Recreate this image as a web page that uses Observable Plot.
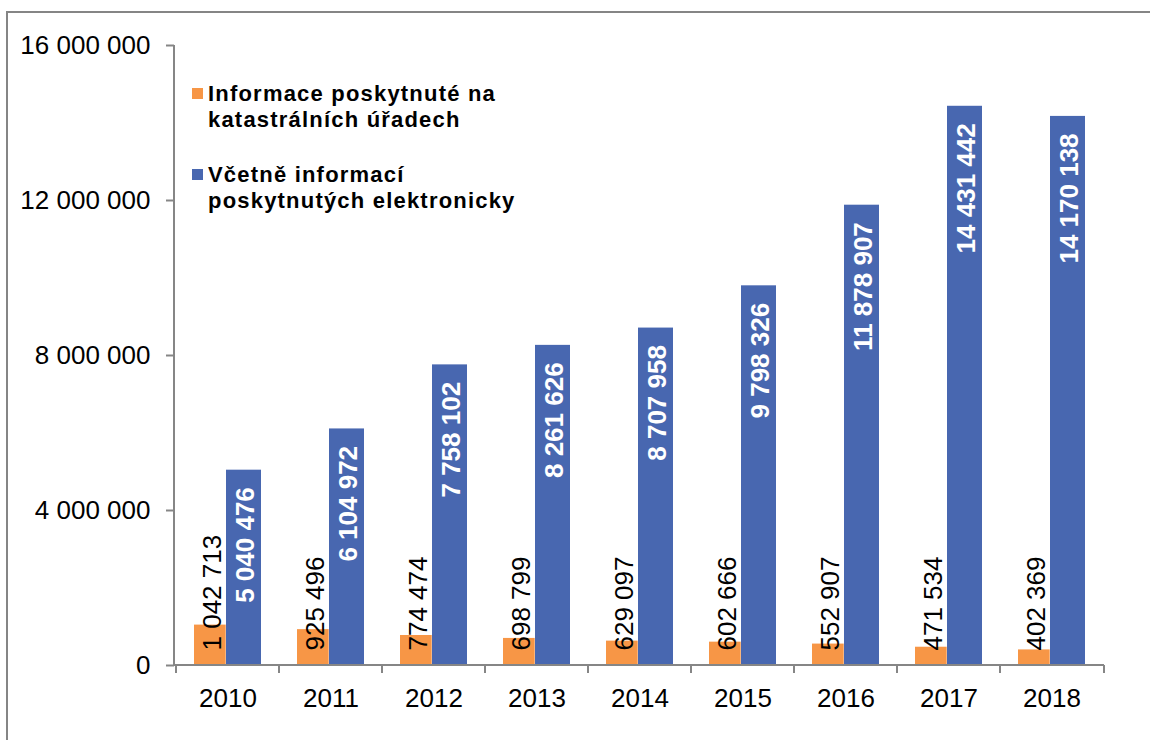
<!DOCTYPE html>
<html>
<head>
<meta charset="utf-8">
<script src="https://cdn.jsdelivr.net/npm/d3@7"></script>
<script src="https://cdn.jsdelivr.net/npm/@observablehq/plot@0.6"></script>
<style>
  html, body { margin: 0; padding: 0; background: #fff; overflow: hidden; }
  #wrap { position: relative; width: 1150px; height: 740px; overflow: hidden; font-family: "Liberation Sans", Arial, sans-serif; }
  #border { position: absolute; left: 6px; top: 11px; width: 1170px; height: 760px; border: 2px solid #858585; box-sizing: border-box; pointer-events: none; }
  #chart { position: absolute; left: 0; top: 0; }
  #chart svg { display: block; }
  #legend { position: absolute; left: 192px; top: 81px; font-size: 22px; font-weight: bold; line-height: 26px; letter-spacing: 1.2px; color: #000; }
  .item { position: relative; padding-left: 16px; }
  .item + .item { margin-top: 29px; }
  .swatch { position: absolute; left: 0; top: 7px; width: 11px; height: 11px; }
</style>
</head>
<body>
<div id="wrap">
  <div id="chart"></div>
  <div id="legend"></div>
  <div id="border"></div>
</div>
<script>
const years = ["2010", "2011", "2012", "2013", "2014", "2015", "2016", "2017", "2018"];
const officeValues = [1042713, 925496, 774474, 698799, 629097, 602666, 552907, 471534, 402369];
const electronicValues = [5040476, 6104972, 7758102, 8261626, 8707958, 9798326, 11878907, 14431442, 14170138];
const yTicks = [0, 4000000, 8000000, 12000000, 16000000];
const seriesNames = ["Informace poskytnuté na\nkatastrálních úřadech", "Včetně informací\nposkytnutých elektronicky"];
const seriesColors = ["#F79646", "#4867B0"];

const data = years.map((year, i) => ({year, office: officeValues[i], electronic: electronicValues[i]}));
const fmt = v => d3.format(",")(v).replace(/,/g, " ");
const axisGray = "#868686";

const axisLines = (index, scales, values, dims) => {
  const {x, y} = scales;
  const g = d3.create("svg:g").attr("stroke", axisGray).attr("stroke-width", 2).attr("fill", "none");
  const left = dims.marginLeft, right = dims.width - dims.marginRight;
  const y0 = y(0), yTop = y(yTicks[yTicks.length - 1]);
  g.append("line").attr("x1", left).attr("x2", left).attr("y1", y0).attr("y2", yTop);
  g.append("line").attr("x1", left).attr("x2", right).attr("y1", y0).attr("y2", y0);
  const bounds = years.map(d => x(d)).concat([right]);
  for (const bx of bounds) {
    g.append("line").attr("x1", bx).attr("x2", bx).attr("y1", y0).attr("y2", y0 + 8);
  }
  return g.node();
};

const chart = Plot.plot({
  width: 1150,
  height: 740,
  marginLeft: 174,
  marginRight: 46,
  marginTop: 45,
  marginBottom: 75,
  style: {fontFamily: "Liberation Sans, Arial, sans-serif", background: "transparent", color: "#000"},
  x: {domain: years, padding: 0, axis: null},
  y: {domain: [0, 16000000], axis: null},
  marks: [
    Plot.barY(data, {x: "year", y: "office", fill: seriesColors[0], insetLeft: 18, insetRight: 53.3}),
    Plot.barY(data, {x: "year", y: "electronic", fill: seriesColors[1], insetLeft: 50, insetRight: 18}),
    Plot.axisY({ticks: yTicks, tickFormat: fmt, tickSize: 8, tickPadding: 16, stroke: axisGray, strokeWidth: 2, fill: "#000", fontSize: 26, label: null}),
    Plot.axisX({tickSize: 0, tickPadding: 23, fill: "#000", fontSize: 26, label: null}),
    axisLines,
    Plot.text(data, {x: "year", y: d => 0, text: d => fmt(d.office), rotate: -90, textAnchor: "start", dx: -15, dy: -15, fill: "#000", fontSize: 26}),
    Plot.text(data, {x: "year", y: "electronic", text: d => fmt(d.electronic), rotate: -90, textAnchor: "end", dx: 18, dy: 17, fill: "#fff", fontSize: 26, fontWeight: "bold"})
  ]
});
document.getElementById("chart").appendChild(chart);

const legend = document.getElementById("legend");
seriesNames.forEach((name, i) => {
  const item = document.createElement("div");
  item.className = "item";
  const sw = document.createElement("span");
  sw.className = "swatch";
  sw.style.background = seriesColors[i];
  item.appendChild(sw);
  name.split("\n").forEach(line => {
    const l = document.createElement("div");
    l.textContent = line;
    item.appendChild(l);
  });
  legend.appendChild(item);
});
</script>
</body>
</html>
